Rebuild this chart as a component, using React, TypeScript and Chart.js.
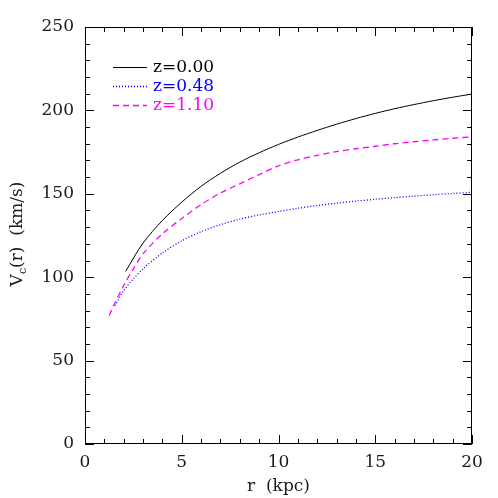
import React, { useEffect, useRef } from "react";
import { Chart, registerables } from "chart.js";
Chart.register(...registerables);

const rZ0 = [2.1, 3, 4, 5, 6, 7, 8, 9, 10, 11, 12, 13, 14, 15, 16, 17, 18, 19, 20];
const vZ0 = [103.5, 120.5, 134, 145, 154.5, 162.3, 169, 174.6, 179.6, 184, 188, 191.7, 195.1, 198.2, 201, 203.5, 205.8, 207.9, 209.8];
const rZ048 = [1.55, 2, 2.5, 3, 4, 5, 6, 7, 8, 9, 10, 11, 12, 13, 14, 15, 16, 17, 18, 19, 20];
const vZ048 = [83, 92, 99, 105, 114.5, 121.8, 127.3, 131.5, 134.8, 137.3, 139.4, 141.3, 143, 144.4, 145.6, 146.7, 147.7, 148.6, 149.4, 150.2, 150.9];
const rZ110 = [1.25, 1.5, 2, 2.5, 3, 4, 5, 6, 7, 8, 9, 10, 11, 12, 13, 14, 15, 16, 17, 18, 19, 20];
const vZ110 = [77, 83.5, 95, 105, 114, 126, 135.2, 143.5, 150.5, 156, 161.5, 166.8, 170.4, 173, 175.3, 177, 178.5, 180, 181.2, 182.3, 183.3, 184.2];
const legendLabels = ["z=0.00", "z=0.48", "z=1.10"];
const colors = ["#000000", "#0000ff", "#ff00ff"];
const xTicks = [0, 5, 10, 15, 20];
const yTicks = [0, 50, 100, 150, 200, 250];

const FONT = "'DejaVu Serif', 'Liberation Serif', serif";

const framePlugin = {
  id: "frame",
  afterDraw(chart: any) {
    const { ctx, chartArea: a, scales } = chart;
    const xs = scales.x, ys = scales.y;
    ctx.save();
    ctx.strokeStyle = "#000";
    ctx.lineWidth = 1;
    ctx.strokeRect(a.left + 0.5, a.top + 0.5, a.right - a.left - 1, a.bottom - a.top - 1);
    for (let v = 0; v <= 20; v += 1) {
      const px = Math.round(xs.getPixelForValue(v)) + 0.5;
      const len = v % 5 === 0 ? 9 : 5;
      ctx.beginPath();
      ctx.moveTo(px, a.bottom); ctx.lineTo(px, a.bottom - len);
      ctx.moveTo(px, a.top); ctx.lineTo(px, a.top + len);
      ctx.stroke();
    }
    for (let v = 0; v <= 250; v += 10) {
      const py = Math.round(ys.getPixelForValue(v)) + 0.5;
      const len = v % 50 === 0 ? 9 : 5;
      ctx.beginPath();
      ctx.moveTo(a.left, py); ctx.lineTo(a.left + len, py);
      ctx.moveTo(a.right, py); ctx.lineTo(a.right - len, py);
      ctx.stroke();
    }
    ctx.fillStyle = "#1a1a1a";
    ctx.font = `17px ${FONT}`;
    ctx.textAlign = "center";
    ctx.textBaseline = "alphabetic";
    xTicks.forEach((v) => ctx.fillText(String(v), xs.getPixelForValue(v), a.bottom + 23));
    ctx.textAlign = "right";
    ctx.textBaseline = "middle";
    yTicks.forEach((v) => ctx.fillText(String(v), a.left - 11, ys.getPixelForValue(v)));
    ctx.textAlign = "center";
    ctx.textBaseline = "alphabetic";
    ctx.fillText("r  (kpc)", (a.left + a.right) / 2, a.bottom + 47);
    ctx.save();
    ctx.translate(22, 234);
    ctx.rotate(-Math.PI / 2);
    ctx.textAlign = "left";
    const t1 = "V", t2 = "c", t3 = "(r)  (km/s)";
    ctx.font = `17px ${FONT}`;
    const w1 = ctx.measureText(t1).width;
    ctx.font = `11px ${FONT}`;
    const w2 = ctx.measureText(t2).width;
    ctx.font = `17px ${FONT}`;
    const w3 = ctx.measureText(t3).width;
    const x0 = -(w1 + w2 + w3) / 2;
    ctx.fillText(t1, x0, 0);
    ctx.font = `11px ${FONT}`;
    ctx.fillText(t2, x0 + w1, 4);
    ctx.font = `17px ${FONT}`;
    ctx.fillText(t3, x0 + w1 + w2, 0);
    ctx.restore();
    const dashes = [[], [1, 2], [6, 4]];
    const rowsY = [67, 86, 105];
    legendLabels.forEach((lab, i) => {
      const y = rowsY[i];
      ctx.strokeStyle = colors[i];
      ctx.lineWidth = i === 0 ? 1 : 1.3;
      ctx.setLineDash(dashes[i]);
      ctx.beginPath();
      ctx.moveTo(113, y + 0.5); ctx.lineTo(147, y + 0.5);
      ctx.stroke();
      ctx.setLineDash([]);
      ctx.fillStyle = colors[i];
      ctx.textAlign = "left";
      ctx.textBaseline = "middle";
      ctx.font = `17px ${FONT}`;
      ctx.fillText(lab, 153, y + 1);
    });
    ctx.restore();
  },
};

export default function App() {
  const ref = useRef<HTMLCanvasElement>(null);
  useEffect(() => {
    const mk = (r: number[], v: number[]) => r.map((x, i) => ({ x, y: v[i] }));
    const common = { pointRadius: 0, tension: 0.3, fill: false };
    const chart = new Chart(ref.current!, {
      type: "line",
      data: {
        datasets: [
          { data: mk(rZ0, vZ0), borderColor: colors[0], borderWidth: 1, ...common },
          { data: mk(rZ048, vZ048), borderColor: colors[1], borderWidth: 1.3, borderDash: [1, 2], ...common },
          { data: mk(rZ110, vZ110), borderColor: colors[2], borderWidth: 1.3, borderDash: [6, 4], ...common },
        ],
      },
      options: {
        animation: false,
        responsive: false,
        layout: { padding: { top: 27, right: 26, left: 0, bottom: 0 } },
        plugins: { legend: { display: false }, tooltip: { enabled: false } },
        scales: {
          x: {
            type: "linear", min: 0, max: 20,
            grid: { display: false }, border: { display: false },
            ticks: { display: false },
            afterFit: (s: any) => { s.height = 54; },
          },
          y: {
            type: "linear", min: 0, max: 250,
            grid: { display: false }, border: { display: false },
            ticks: { display: false },
            afterFit: (s: any) => { s.width = 85; },
          },
        },
      },
      plugins: [framePlugin],
    });
    return () => chart.destroy();
  }, []);
  return (
    <div style={{ position: "fixed", left: 0, top: 0, width: 498, height: 498, background: "#fff" }}>
      <canvas ref={ref} width={498} height={498} />
    </div>
  );
}
